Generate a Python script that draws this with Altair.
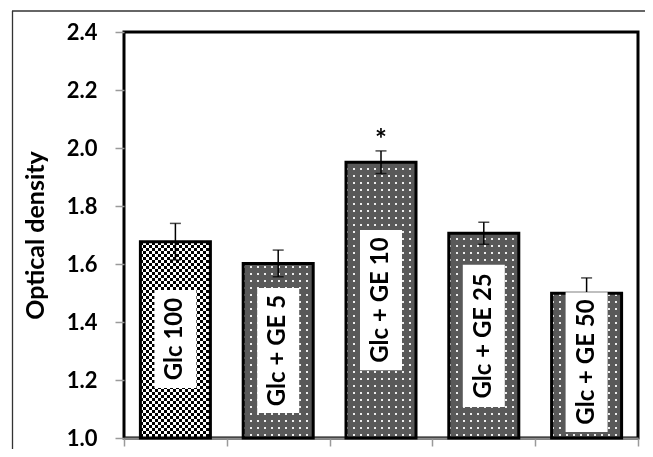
import altair as alt
import pandas as pd

# ---- data ----
categories = ["Glc 100", "Glc + GE 5", "Glc + GE 10", "Glc + GE 25", "Glc + GE 50"]
values = [1.677, 1.602, 1.951, 1.706, 1.499]
errors = [0.063, 0.046, 0.039, 0.038, 0.053]
significance = ["", "", "*", "", ""]
# white label boxes inside the bars (in optical-density units)
label_top = [1.510, 1.517, 1.717, 1.597, 1.503]
label_bottom = [1.172, 1.086, 1.234, 1.107, 1.021]
y_ticks = [1.0, 1.2, 1.4, 1.6, 1.8, 2.0, 2.2, 2.4]
Y_MIN, Y_MAX = 1.0, 2.4

# ---- styles ----
FONT = "Lato"
PLOT_W, PLOT_H = 514, 406
BAR_W = 70
TEX_TOP = 2.39          # texture/cover stop just under the frame
TEX_H = (TEX_TOP - Y_MIN) / (Y_MAX - Y_MIN) * PLOT_H


def stripe_gradient(length_px, period_px, on_px, on_color, off_color, horizontal):
    """Hard-edged stripe gradient used as a fill texture."""
    p = period_px / length_px
    f = on_px / length_px
    stops = []
    k = 0
    while k * p < 1.0:
        s = k * p
        pts = [(s, on_color), (s + f, on_color), (s + f, off_color), (s + p, off_color)]
        for off, col in pts:
            stops.append(alt.GradientStop(offset=min(off, 1.0), color=col))
        k += 1
    if horizontal:  # stripes running horizontally -> gradient along y
        return alt.LinearGradient(gradient="linear", x1=0, y1=0, x2=0, y2=1, stops=stops)
    return alt.LinearGradient(gradient="linear", x1=0, y1=0, x2=1, y2=0, stops=stops)


checker_h = stripe_gradient(TEX_H, 6, 3, "#000000", "#ffffff", True)
checker_v = stripe_gradient(BAR_W, 6, 3, "#ffffff", "#000000", False)
GREY = "#595959"
dots_h = stripe_gradient(TEX_H, 7, 2, "#eeeeee", GREY, True)
dots_v = stripe_gradient(BAR_W, 7, 2, "#eeeeee", GREY, False)

df = pd.DataFrame({
    "cat": categories,
    "value": values,
    "err": errors,
    "sig": significance,
    "ltop": label_top,
    "lbot": label_bottom,
})
df["hi"] = df["value"] + df["err"]
df["lo"] = df["value"] - df["err"]
df["lmid"] = (df["ltop"] + df["lbot"]) / 2
df["first"] = [c == categories[0] for c in categories]

x = alt.X(
    "cat:N",
    sort=categories,
    title=None,
    scale=alt.Scale(paddingInner=0, paddingOuter=0),
    axis=alt.Axis(labels=False, tickBand="extent", tickSize=8, tickColor="#9a9a9a",
                  tickWidth=1.5, domainColor="#8a8a8a", domainWidth=2),
)
yscale = alt.Scale(domain=[Y_MIN, Y_MAX], nice=False, zero=False)

base = alt.Chart(df)

yaxis = alt.Axis(values=y_ticks, format=".1f", title="Optical density",
                 domain=False, grid=False, tickSize=9, tickColor="#9a9a9a",
                 tickWidth=1.5, labelPadding=18, labelFontSize=22,
                 labelFontWeight="bold", labelFont=FONT, labelColor="black",
                 titleFont=FONT, titleFontSize=25, titleFontWeight="bold",
                 titleColor="black", titleAngle=270, titleAlign="center",
                 titleBaseline="middle", titleX=-89, titleY=203)

# textures (full-height columns, later covered above each bar)
tex1_h = base.transform_filter("datum.first").mark_bar(size=BAR_W, fill=checker_h, strokeWidth=0).encode(
    x=x, y=alt.datum(Y_MIN), y2=alt.datum(TEX_TOP)
)
tex1_v = base.transform_filter("datum.first").mark_bar(size=BAR_W, fill=checker_v, strokeWidth=0,
                                                        blend="difference").encode(
    x=x, y=alt.datum(Y_MIN), y2=alt.datum(TEX_TOP)
)
tex2_h = base.transform_filter("!datum.first").mark_bar(size=BAR_W, fill=dots_h, strokeWidth=0).encode(
    x=x, y=alt.datum(Y_MIN), y2=alt.datum(TEX_TOP)
)
tex2_v = base.transform_filter("!datum.first").mark_bar(size=BAR_W, fill=dots_v, strokeWidth=0,
                                                         blend="darken").encode(
    x=x, y=alt.datum(Y_MIN), y2=alt.datum(TEX_TOP)
)
cover = base.mark_bar(size=BAR_W + 4, fill="white", strokeWidth=0).encode(
    x=x, y=alt.Y("value:Q", scale=yscale, axis=yaxis, title="Optical density"),
    y2=alt.datum(TEX_TOP)
)
outline = base.mark_bar(size=BAR_W, fill="transparent", stroke="black", strokeWidth=3).encode(
    x=x, y=alt.Y("value:Q", scale=yscale), y2=alt.datum(Y_MIN)
)

err_rule = base.mark_rule(color="black", strokeWidth=1.5).encode(
    x=x, y=alt.Y("lo:Q", scale=yscale), y2="hi:Q"
)
cap_hi = base.mark_tick(color="black", thickness=1.5, size=11).encode(
    x=x, y=alt.Y("hi:Q", scale=yscale)
)
cap_lo = base.mark_tick(color="black", thickness=1.5, size=11).encode(
    x=x, y=alt.Y("lo:Q", scale=yscale)
)

label_box = base.mark_bar(fill="white", size=42).encode(
    x=x, y=alt.Y("ltop:Q", scale=yscale), y2="lbot:Q"
)
label_text = base.mark_text(angle=270, font=FONT, fontSize=24, fontWeight="bold",
                            align="center", baseline="middle", color="black").encode(
    x=x, y=alt.Y("lmid:Q", scale=yscale), text="cat:N"
)
sig_text = base.mark_text(font=FONT, fontSize=28, fontWeight="bold", baseline="alphabetic",
                          dy=-2, color="black").encode(
    x=x, y=alt.Y("hi:Q", scale=yscale), text="sig:N"
)

frame_src = alt.Chart(pd.DataFrame({"k": [0]}))
outer_top = frame_src.mark_rule(color="#333333", strokeWidth=1.3).encode(
    x=alt.value(-112), x2=alt.value(540), y=alt.value(-21)
)
outer_left = frame_src.mark_rule(color="#333333", strokeWidth=1.3).encode(
    x=alt.value(-111.5), y=alt.value(-21), y2=alt.value(440)
)

chart = alt.layer(
    tex1_h, tex1_v, tex2_h, tex2_v, cover, outline,
    err_rule, cap_hi, cap_lo, label_box, label_text, sig_text, outer_top, outer_left
).properties(
    width=PLOT_W,
    height=PLOT_H,
    background="white",
    autosize=alt.AutoSizeParams(type="none"),
    padding={"left": 116, "top": 24, "right": 7, "bottom": 11},
).configure_view(
    stroke="black", strokeWidth=3
)

chart.save("out.html", embed_options={"renderer": "svg", "actions": False})
